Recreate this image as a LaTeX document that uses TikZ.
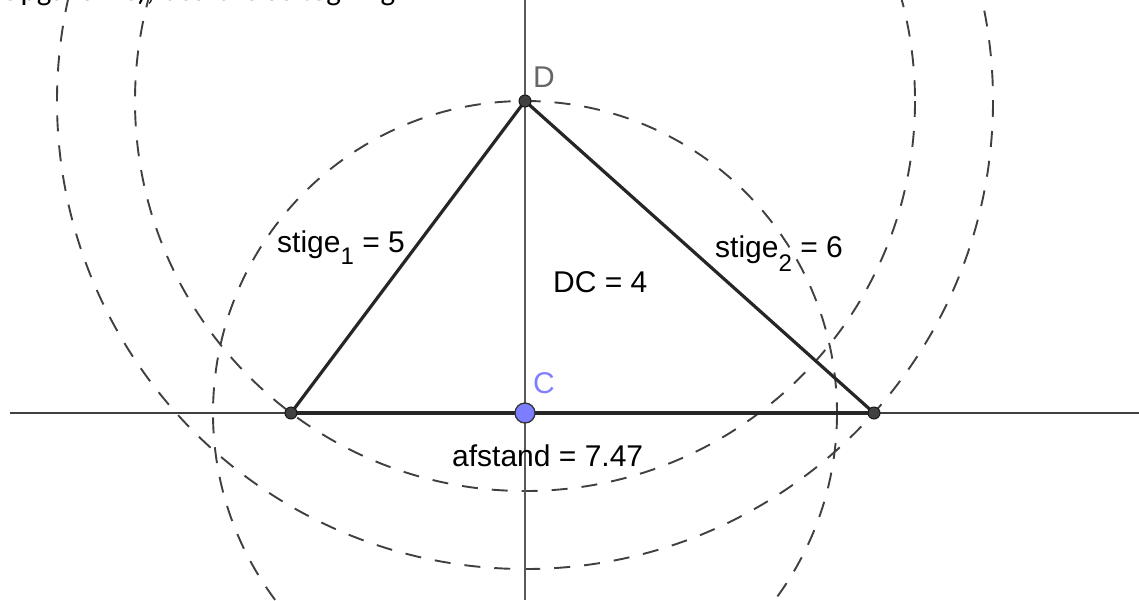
\documentclass[tikz,border=0pt]{standalone}
\usepackage{fontspec}
\setmainfont{Liberation Sans}
\newfontfamily\calib{Carlito}
\definecolor{ptblue}{RGB}{125,125,255}
\definecolor{lblblue}{RGB}{128,128,255}
\begin{document}
\begin{tikzpicture}[x=1pt,y=-1pt,
 axis/.style={draw=black!75, line width=1.6pt},
 side/.style={draw=black!85, line width=3.2pt, line cap=round},
 circ/.style={draw=black!75, line width=1.9pt, dash pattern=on 16pt off 14pt},
 pt/.style={circle, fill=black!75, draw=black!90, line width=1pt, inner sep=0pt, minimum size=12pt},
 cpt/.style={circle, fill=ptblue, draw=black!80, line width=1.3pt, inner sep=0pt, minimum size=20pt},
 lbl/.style={anchor=base west, inner sep=0pt, font=\fontsize{30}{30}\selectfont}
]
\useasboundingbox (0,0) rectangle (1139,600);
\coordinate (C) at (525,413);
\coordinate (D) at (525,101);
\coordinate (A) at (291,413);
\coordinate (B) at (874,413);
\coordinate (axL) at (10,413);
\coordinate (axR) at (1139,413);
\coordinate (axT) at (525,0);
\coordinate (axB) at (525,600);
% title (cut off at the top edge, as in the reference)
\node[anchor=base west, inner sep=0pt, font=\calib\fontsize{31}{31}\selectfont] (title) at (0,0.5) {Opgave 4 c), besvarelse tegning};
% dashed circles
\draw[circ] (C) circle[radius=312];
\draw[circ] (D) circle[radius=390];
\draw[circ] (D) circle[radius=468];
% axes
\draw[axis] (axL) -- (axR);
\draw[axis, draw=black!65] (axT) -- (axB);
% triangle
\draw[side] (A) -- (D) -- (B);
\draw[side] (A) -- (B);
% points
\node[pt] (pA) at (A) {};
\node[pt] (pB) at (B) {};
\node[pt] (pD) at (D) {};
\node[cpt] (pC) at (C) {};
% labels
\node[lbl, text=black!60] (lD) at (533,87) {D};
\node[lbl, text=lblblue] (lC) at (533,393) {C};
\node[lbl] (l1) at (277,252) {stige\raisebox{-12pt}{\fontsize{24}{24}\selectfont 1} = 5};
\node[lbl] (l2) at (715,257) {stige\raisebox{-14pt}{\fontsize{24}{24}\selectfont 2} = 6};
\node[lbl] (l3) at (553,292) {DC = 4};
\node[lbl] (l4) at (452,466) {afstand = 7.47};
\end{tikzpicture}
\end{document}
